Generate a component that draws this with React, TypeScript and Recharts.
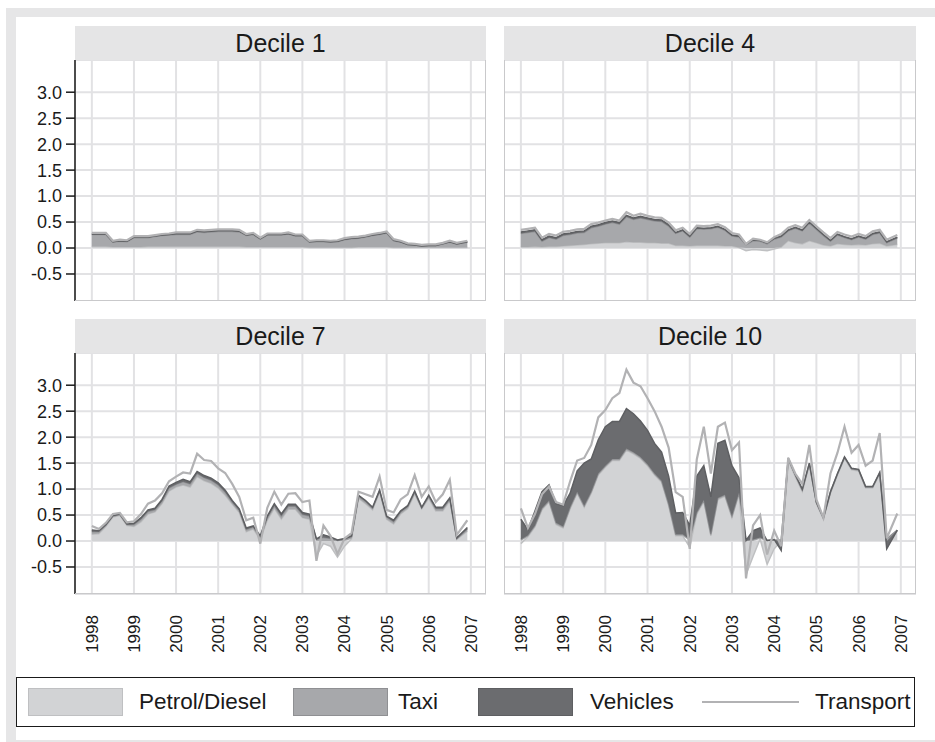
import { ComposedChart, Area, Line, XAxis, YAxis, CartesianGrid } from "recharts";

// colours taken from the grey print palette
const PETROL = "#d2d3d5";
const TAXI = "#a7a8ab";
const VEHICLES = "#6b6c6f";
const TRANSPORT = "#b2b2b4";
const GRID = "#e2e2e4";
const STRIP = "#e5e5e6";
const FONT = '"Liberation Sans", Arial, Helvetica, sans-serif';

// two-monthly observations from Jan 1998, last one Dec 2006
const MONTHS = Array.from({ length: 54 }, (_, i) => (i === 53 ? 107 : i * 2));
const YEARS = [1998, 1999, 2000, 2001, 2002, 2003, 2004, 2005, 2006, 2007];
const Y_TICKS = [-0.5, 0, 0.5, 1, 1.5, 2, 2.5, 3];

// Decile 1
const d1Petrol = [
  0.03, 0.03, 0.03, 0.02, 0.02, 0.02, 0.02, 0.02, 0.03, 0.03,
  0.03, 0.03, 0.03, 0.03, 0.03, 0.03, 0.03, 0.03, 0.03, 0.03,
  0.03, 0.03, 0.02, 0.02, 0.02, 0.02, 0.02, 0.02, 0.02, 0.02,
  0.02, 0.01, 0.01, 0.01, 0.01, 0.01, 0.01, 0.01, 0.02, 0.02,
  0.02, 0.02, 0.02, 0.01, 0.01, 0.01, 0.01, 0.01, 0.01, 0.01,
  0.01, 0.01, 0.01, 0.01,
];
const d1Taxi = [
  0.23, 0.23, 0.23, 0.09, 0.11, 0.10, 0.18, 0.18, 0.17, 0.19,
  0.21, 0.22, 0.23, 0.23, 0.23, 0.28, 0.27, 0.28, 0.29, 0.29,
  0.29, 0.28, 0.22, 0.24, 0.15, 0.23, 0.23, 0.23, 0.25, 0.21,
  0.21, 0.10, 0.11, 0.11, 0.10, 0.11, 0.15, 0.17, 0.17, 0.19,
  0.22, 0.24, 0.27, 0.13, 0.10, 0.06, 0.05, 0.03, 0.04, 0.04,
  0.07, 0.10, 0.07, 0.10,
];
const d1Vehicles = [
  0.01, 0.01, 0.01, 0.01, 0.01, 0.01, 0.01, 0.01, 0.01, 0.01,
  0.01, 0.01, 0.02, 0.02, 0.02, 0.02, 0.02, 0.02, 0.02, 0.02,
  0.02, 0.02, 0.01, 0.01, 0.01, 0.01, 0.01, 0.01, 0.01, 0.01,
  0.01, 0.01, 0.01, 0.01, 0.01, 0.01, 0.01, 0.01, 0.01, 0.01,
  0.01, 0.01, 0.01, 0.01, 0.01, 0.0, 0.0, 0.0, 0.0, 0.0,
  0.0, 0.01, 0.0, 0.01,
];
const d1Transport = [
  0.29, 0.29, 0.29, 0.14, 0.16, 0.15, 0.23, 0.23, 0.23, 0.25,
  0.27, 0.28, 0.3, 0.3, 0.3, 0.35, 0.34, 0.35, 0.36, 0.36,
  0.36, 0.35, 0.27, 0.29, 0.2, 0.28, 0.28, 0.28, 0.3, 0.26,
  0.26, 0.14, 0.15, 0.15, 0.14, 0.15, 0.19, 0.21, 0.22, 0.24,
  0.27, 0.29, 0.32, 0.17, 0.14, 0.09, 0.08, 0.06, 0.07, 0.07,
  0.1, 0.14, 0.1, 0.14,
];

// Decile 4
const d4Petrol = [
  0.02, 0.02, 0.03, 0.02, 0.03, 0.03, 0.04, 0.05, 0.06, 0.07,
  0.08, 0.09, 0.1, 0.1, 0.1, 0.12, 0.11, 0.11, 0.1, 0.1,
  0.09, 0.09, 0.05, 0.05, 0.04, 0.05, 0.05, 0.05, 0.05, 0.04,
  0.04, 0.01, -0.05, -0.03, -0.04, -0.05, -0.02, 0.02, 0.14, 0.1,
  0.08, 0.14, 0.1, 0.06, 0.04, 0.08, 0.07, 0.06, 0.07, 0.06,
  0.08, 0.09, 0.04, 0.07,
];
const d4Taxi = [
  0.26, 0.28, 0.29, 0.11, 0.17, 0.14, 0.2, 0.21, 0.23, 0.23,
  0.31, 0.33, 0.36, 0.39, 0.36, 0.48, 0.44, 0.47, 0.45, 0.42,
  0.42, 0.33, 0.23, 0.28, 0.17, 0.32, 0.31, 0.32, 0.35, 0.3,
  0.19, 0.2, 0.06, 0.14, 0.13, 0.08, 0.17, 0.19, 0.19, 0.28,
  0.25, 0.34, 0.26, 0.18, 0.09, 0.17, 0.13, 0.1, 0.14, 0.11,
  0.18, 0.2, 0.06, 0.12,
];
const d4Vehicles = [
  0.03, 0.03, 0.03, 0.03, 0.03, 0.03, 0.03, 0.03, 0.03, 0.03,
  0.03, 0.03, 0.03, 0.03, 0.03, 0.03, 0.03, 0.03, 0.03, 0.03,
  0.03, 0.03, 0.02, 0.02, 0.02, 0.02, 0.02, 0.02, 0.02, 0.02,
  0.02, 0.02, 0.02, 0.02, 0.02, 0.02, 0.02, 0.02, 0.02, 0.02,
  0.02, 0.02, 0.02, 0.02, 0.02, 0.02, 0.02, 0.02, 0.02, 0.02,
  0.02, 0.02, 0.02, 0.02,
];
const d4Transport = [
  0.35, 0.37, 0.39, 0.2, 0.27, 0.24, 0.31, 0.33, 0.36, 0.37,
  0.46, 0.49, 0.53, 0.56, 0.53, 0.69, 0.62, 0.66, 0.62, 0.59,
  0.58, 0.49, 0.34, 0.39, 0.27, 0.43, 0.42, 0.43, 0.46, 0.4,
  0.29, 0.26, 0.08, 0.18, 0.16, 0.11, 0.21, 0.27, 0.39, 0.44,
  0.39, 0.54, 0.42, 0.3, 0.19, 0.31, 0.26, 0.22, 0.27, 0.23,
  0.32, 0.35, 0.16, 0.25,
];

// Decile 7
const d7Petrol = [
  0.13, 0.14, 0.28, 0.46, 0.49, 0.3, 0.28, 0.37, 0.52, 0.56,
  0.72, 0.96, 1.04, 1.08, 1.04, 1.24, 1.16, 1.11, 1.02, 0.88,
  0.71, 0.55, 0.18, 0.23, 0.03, 0.4, 0.63, 0.42, 0.61, 0.61,
  0.45, 0.42, -0.28, -0.05, -0.1, -0.31, -0.1, 0.04, 0.82, 0.72,
  0.6, 0.94, 0.42, 0.33, 0.52, 0.62, 0.9, 0.62, 0.82, 0.58,
  0.58, 0.77, 0.03, 0.19,
];
const d7Taxi = [
  0.05, 0.04, 0.03, 0.02, 0.02, 0.02, 0.04, 0.05, 0.05, 0.04,
  0.05, 0.06, 0.05, 0.06, 0.06, 0.06, 0.06, 0.06, 0.06, 0.06,
  0.04, 0.04, 0.04, 0.04, 0.04, 0.05, 0.05, 0.06, 0.06, 0.06,
  0.06, 0.06, 0.03, 0.07, 0.05, 0.01, 0.03, 0.04, 0.04, 0.04,
  0.03, 0.03, 0.04, 0.04, 0.04, 0.04, 0.04, 0.02, 0.04, 0.04,
  0.04, 0.04, 0.02, 0.04,
];
const d7Vehicles = [
  0.03, 0.02, 0.01, 0.01, 0.01, 0.01, 0.02, 0.03, 0.03, 0.03,
  0.03, 0.04, 0.04, 0.05, 0.04, 0.04, 0.04, 0.04, 0.04, 0.04,
  0.03, 0.03, 0.03, 0.02, 0.03, 0.03, 0.04, 0.04, 0.04, 0.04,
  0.04, 0.04, 0.01, 0.05, 0.03, 0.01, 0.02, 0.02, 0.02, 0.02,
  0.02, 0.01, 0.02, 0.03, 0.02, 0.02, 0.02, 0.01, 0.02, 0.03,
  0.03, 0.02, 0.01, 0.03,
];
const d7Transport = [
  0.29, 0.23, 0.35, 0.52, 0.54, 0.36, 0.38, 0.52, 0.72, 0.78,
  0.92, 1.15, 1.24, 1.32, 1.3, 1.68, 1.56, 1.54, 1.4, 1.31,
  1.1, 0.85, 0.4, 0.45, -0.05, 0.64, 0.95, 0.7, 0.91, 0.92,
  0.75, 0.78, -0.38, 0.3, 0.1, -0.25, 0.05, 0.15, 0.95, 0.9,
  0.85, 1.24, 0.6, 0.55, 0.8, 0.9, 1.27, 0.85, 1.05, 0.75,
  0.9, 1.18, 0.12, 0.4,
];

// Decile 10
const d10Petrol = [
  -0.05, 0.08, 0.27, 0.6, 0.75, 0.32, 0.25, 0.62, 0.92, 0.65,
  0.92, 1.27, 1.42, 1.55, 1.55, 1.75, 1.68, 1.59, 1.45, 1.27,
  1.13, 0.68, 0.1, 0.1, -0.12, 0.52, 0.76, 0.1, 0.8, 0.86,
  0.45, 0.9, -0.65, -0.3, 0.04, -0.45, -0.15, 0.0, 1.55, 1.24,
  0.95, 1.46, 0.72, 0.42, 0.92, 1.27, 1.59, 1.37, 1.35, 1.02,
  1.02, 1.29, 0.02, 0.2,
];
const d10Taxi = [
  0.03, 0.03, 0.03, 0.03, 0.03, 0.03, 0.03, 0.03, 0.03, 0.03,
  0.03, 0.03, 0.03, 0.03, 0.03, 0.03, 0.03, 0.03, 0.03, 0.03,
  0.03, 0.03, 0.03, 0.03, 0.03, 0.03, 0.03, 0.03, 0.03, 0.03,
  0.03, 0.03, 0.01, 0.03, 0.03, 0.01, 0.02, 0.02, 0.03, 0.03,
  0.03, 0.03, 0.02, 0.02, 0.02, 0.02, 0.02, 0.02, 0.02, 0.02,
  0.02, 0.02, 0.02, 0.01,
];
const d10Vehicles = [
  0.39, 0.11, 0.28, 0.32, 0.3, 0.37, 0.4, 0.27, 0.4, 0.82,
  0.63, 0.65, 0.75, 0.72, 0.72, 0.77, 0.74, 0.69, 0.65, 0.58,
  0.55, 0.54, 0.41, 0.42, 0.27, 0.7, 0.66, 0.72, 1.05, 1.05,
  0.97, 0.29, 0.0, 0.17, 0.18, 0.0, 0.01, -0.18, 0.02, 0.01,
  0.02, 0.01, 0.01, 0.01, 0.01, 0.01, 0.01, 0.01, 0.01, 0.01,
  0.01, 0.01, -0.15, 0.0,
];
const d10Transport = [
  0.63, 0.25, 0.52, 0.9, 1.05, 0.75, 0.7, 1.15, 1.55, 1.6,
  1.85, 2.38, 2.52, 2.75, 2.85, 3.3, 3.05, 2.98, 2.75, 2.5,
  2.2, 1.8, 0.94, 0.85, -0.15, 1.57, 2.2, 1.3, 2.2, 2.28,
  1.75, 1.9, -0.72, 0.3, 0.5, -0.26, 0.2, -0.1, 1.6, 1.3,
  1.1, 1.85, 0.8, 0.45, 1.3, 1.7, 2.2, 1.7, 1.85, 1.45,
  1.55, 2.08, 0.05, 0.53,
];

type Row = { t: number; petrol: number; taxi: number; vehicles: number; transport: number };

function buildRows(petrol: number[], taxi: number[], vehicles: number[], transport: number[]): Row[] {
  return MONTHS.map((m, i) => ({
    t: 1998 + m / 12,
    petrol: petrol[i],
    taxi: taxi[i],
    vehicles: vehicles[i],
    transport: transport[i],
  }));
}

const PLOT_H = 241;
const STRIP_H = 34;
const X_AXIS_H = 70;

function YearTick(props: any) {
  const { x, y, payload } = props;
  const ty = y + 13;
  return (
    <text
      x={x}
      y={ty}
      dy="0.35em"
      textAnchor="end"
      transform={`rotate(-90, ${x}, ${ty})`}
      fontSize={17}
      fontFamily={FONT}
      fill="#1a1a1a"
    >
      {payload.value}
    </text>
  );
}

// upper panels keep their ticks (for the grid) but print nothing
function NoTick() {
  return <g />;
}

type PanelProps = {
  title: string;
  rows: Row[];
  plotLeft: number;
  plotWidth: number;
  top: number;
  showY: boolean;
  showX: boolean;
};

function Panel({ title, rows, plotLeft, plotWidth, top, showY, showX }: PanelProps) {
  const yAxisW = showY ? plotLeft : 0;
  const chartLeft = plotLeft - yAxisW;
  return (
    <>
      <div
        style={{
          position: "absolute",
          left: plotLeft,
          top: top - STRIP_H,
          width: plotWidth,
          height: STRIP_H,
          background: STRIP,
          color: "#1a1a1a",
          fontFamily: FONT,
          fontSize: 25,
          lineHeight: `${STRIP_H + 1}px`,
          textAlign: "center",
        }}
      >
        {title}
      </div>
      <div style={{ position: "absolute", left: chartLeft, top }}>
        <ComposedChart
          width={plotWidth + yAxisW}
          height={PLOT_H + (showX ? X_AXIS_H : 0)}
          data={rows}
          stackOffset="sign"
          margin={{ top: 0, right: 0, bottom: 0, left: 0 }}
        >
          <CartesianGrid stroke={GRID} strokeWidth={2} />
          <XAxis
            type="number"
            dataKey="t"
            domain={[1997.6, 2007.36]}
            ticks={YEARS}
            allowDataOverflow
            axisLine={false}
            tickLine={false}
            height={showX ? X_AXIS_H : 0}
            tick={showX ? <YearTick /> : <NoTick />}
            interval={0}
          />
          <YAxis
            type="number"
            domain={[-1.02, 3.62]}
            ticks={Y_TICKS}
            allowDataOverflow
            width={yAxisW}
            axisLine={showY ? { stroke: "#1a1a1a", strokeWidth: 1.5 } : false}
            tickLine={showY ? { stroke: "#1a1a1a", strokeWidth: 1.5 } : false}
            tickSize={9}
            tickMargin={4}
            tick={showY ? { fontSize: 18, fontFamily: FONT, fill: "#1a1a1a" } : <NoTick />}
            tickFormatter={(v: number) => v.toFixed(1)}
            interval={0}
          />
          <Area
            type="linear"
            dataKey="petrol"
            stackId="s"
            fill={PETROL}
            fillOpacity={1}
            stroke="#bfc0c2"
            strokeWidth={1.5}
            isAnimationActive={false}
          />
          <Area
            type="linear"
            dataKey="taxi"
            stackId="s"
            fill={TAXI}
            fillOpacity={1}
            stroke="#929396"
            strokeWidth={1.5}
            isAnimationActive={false}
          />
          <Area
            type="linear"
            dataKey="vehicles"
            stackId="s"
            fill={VEHICLES}
            fillOpacity={1}
            stroke="#5e5f62"
            strokeWidth={1.5}
            isAnimationActive={false}
          />
          <Line
            type="linear"
            dataKey="transport"
            stroke={TRANSPORT}
            strokeWidth={2.2}
            dot={false}
            isAnimationActive={false}
          />
        </ComposedChart>
      </div>
      {/* panel frame: grey border right/bottom (and left on the right-hand panels) */}
      <div
        style={{
          position: "absolute",
          left: plotLeft,
          top,
          width: plotWidth,
          height: PLOT_H,
          boxSizing: "border-box",
          borderRight: "1.5px solid #c9c9cb",
          borderBottom: "1.5px solid #c9c9cb",
          borderLeft: showY ? "none" : "1.5px solid #c9c9cb",
          pointerEvents: "none",
        }}
      />
    </>
  );
}

function LegendSwatch({ left, fill, stroke }: { left: number; fill: string; stroke: string }) {
  return (
    <div
      style={{
        position: "absolute",
        left,
        top: 688,
        width: 95,
        height: 28,
        boxSizing: "border-box",
        background: fill,
        border: `1.5px solid ${stroke}`,
      }}
    />
  );
}

function LegendText({ left, text }: { left: number; text: string }) {
  return (
    <div
      style={{
        position: "absolute",
        left,
        top: 688,
        height: 28,
        lineHeight: "28px",
        fontFamily: FONT,
        fontSize: 22.5,
        color: "#1a1a1a",
        whiteSpace: "nowrap",
      }}
    >
      {text}
    </div>
  );
}

export default function App() {
  const d1 = buildRows(d1Petrol, d1Taxi, d1Vehicles, d1Transport);
  const d4 = buildRows(d4Petrol, d4Taxi, d4Vehicles, d4Transport);
  const d7 = buildRows(d7Petrol, d7Taxi, d7Vehicles, d7Transport);
  const d10 = buildRows(d10Petrol, d10Taxi, d10Vehicles, d10Transport);

  return (
    <div style={{ position: "absolute", left: 0, top: 0, width: 935, height: 742, background: "#fff", overflow: "hidden" }}>
      {/* outer grey frame */}
      <div style={{ position: "absolute", left: 6, top: 8, width: 929, height: 734, background: "#e6e6e7" }} />
      <div style={{ position: "absolute", left: 16, top: 17, width: 919, height: 723, background: "#fff" }} />

      <Panel title="Decile 1" rows={d1} plotLeft={75} plotWidth={411} top={60} showY showX={false} />
      <Panel title="Decile 4" rows={d4} plotLeft={504} plotWidth={412} top={60} showY={false} showX={false} />
      <Panel title="Decile 7" rows={d7} plotLeft={75} plotWidth={411} top={353} showY showX />
      <Panel title="Decile 10" rows={d10} plotLeft={504} plotWidth={412} top={353} showY={false} showX />

      {/* legend */}
      <div
        style={{
          position: "absolute",
          left: 16,
          top: 677,
          width: 899,
          height: 50,
          boxSizing: "border-box",
          border: "1.5px solid #1a1a1a",
        }}
      />
      <LegendSwatch left={28} fill={PETROL} stroke="#bfc0c2" />
      <LegendText left={139} text="Petrol/Diesel" />
      <LegendSwatch left={293} fill={TAXI} stroke="#8f9093" />
      <LegendText left={398} text="Taxi" />
      <LegendSwatch left={478} fill={VEHICLES} stroke="#5e5f62" />
      <LegendText left={590} text="Vehicles" />
      <div style={{ position: "absolute", left: 702, top: 701, width: 97, height: 2, background: TRANSPORT }} />
      <LegendText left={815} text="Transport" />
    </div>
  );
}
